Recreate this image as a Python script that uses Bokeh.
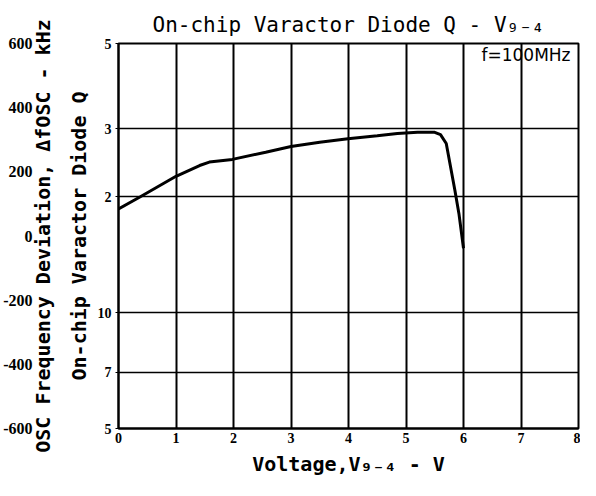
from bokeh.plotting import figure
from bokeh.models import Range1d, LinearAxis, FixedTicker, Label, LinearScale
from bokeh.embed import file_html
from bokeh.resources import INLINE

# ---- data ----
voltage = [0.0, 0.38, 1.0, 1.41, 1.58, 1.98, 2.56, 3.0, 3.5, 3.99, 4.5, 4.85,
           5.2, 5.5, 5.6, 5.7, 5.85, 5.92, 6.0]
diode_q = [18.6, 20.0, 22.6, 24.1, 24.6, 25.0, 26.1, 27.0, 27.7, 28.3, 28.8, 29.2,
           29.4, 29.4, 29.0, 27.5, 20.8, 18.1, 14.7]

x_ticks = [0, 1, 2, 3, 4, 5, 6, 7, 8]
x_grid = [1, 2, 3, 4, 5, 6, 7]
q_ticks = [5, 7, 10, 20, 30, 50]
q_tick_labels = ["5", "7", "10", "2", "3", "5"]
q_grid = [7, 10, 20, 30]
freq_ticks = [-600, -400, -200, 0, 200, 400, 600]
freq_tick_labels = ["-600", "-400", "-200", "0", "200", "400", "600"]

TITLE = "On-chip Varactor Diode Q - V\u2089\u208b\u2084"
XLABEL = "Voltage,V\u2089\u208b\u2084 - V"
QLABEL = "On-chip Varactor Diode Q"
FLABEL = "OSC Frequency Deviation, \u0394fOSC - kHz"
NOTE = "f=100MHz"

MONO = "DejaVu Sans Mono"
NUM = "Liberation Serif"
INK = "black"

p = figure(width=580, height=480, x_range=Range1d(0, 8), y_range=Range1d(5, 50),
           y_axis_type="log", output_backend="svg", toolbar_location=None,
           title=TITLE, min_border_left=118, min_border_right=2,
           min_border_top=43, min_border_bottom=52)
p.extra_y_ranges = {"freq": Range1d(-600, 600)}
p.extra_y_scales = {"freq": LinearScale()}

p.background_fill_color = "white"
p.border_fill_color = "white"
p.outline_line_color = INK
p.outline_line_width = 2
p.outline_line_alpha = 1

p.title.align = "center"
p.title.text_font = MONO
p.title.text_font_size = "21px"
p.title.text_font_style = "normal"
p.title.text_color = INK
p.title.standoff = 13

# x axis
xa = p.xaxis[0]
xa.ticker = FixedTicker(ticks=x_ticks)
xa.axis_label = XLABEL
xa.axis_label_text_font = MONO
xa.axis_label_text_font_size = "20px"
xa.axis_label_text_font_style = "bold"
xa.axis_label_text_color = INK
xa.axis_label_standoff = 6
xa.major_label_text_font = NUM
xa.major_label_text_font_style = "bold"
xa.major_label_text_font_size = "14px"
xa.major_label_text_color = INK
xa.major_label_standoff = 4
xa.major_tick_in = 0
xa.major_tick_out = 0
xa.minor_tick_in = 0
xa.minor_tick_out = 0
xa.axis_line_color = INK
xa.axis_line_width = 2

# primary (Q) axis
ya = p.yaxis[0]
ya.ticker = FixedTicker(ticks=q_ticks)
ya.major_label_overrides = {t: s for t, s in zip(q_ticks, q_tick_labels)}
ya.axis_label = QLABEL
ya.axis_label_text_font = MONO
ya.axis_label_text_font_size = "20px"
ya.axis_label_text_font_style = "bold"
ya.axis_label_text_color = INK
ya.axis_label_standoff = 4
ya.major_label_text_font = NUM
ya.major_label_text_font_style = "bold"
ya.major_label_text_font_size = "14px"
ya.major_label_text_color = INK
ya.major_label_standoff = 4
ya.major_tick_in = 0
ya.major_tick_out = 3
ya.major_tick_line_color = INK
ya.minor_tick_in = 0
ya.minor_tick_out = 0
ya.axis_line_color = INK
ya.axis_line_width = 2

# label-only axis for the frequency deviation title
fl = LinearAxis(y_range_name="freq", ticker=FixedTicker(ticks=[]),
                axis_label=FLABEL)
fl.axis_line_color = None
fl.major_tick_line_color = None
fl.minor_tick_line_color = None
fl.axis_label_text_font = MONO
fl.axis_label_text_font_size = "20px"
fl.axis_label_text_font_style = "bold"
fl.axis_label_text_color = INK
fl.axis_label_standoff = 9
p.add_layout(fl, "left")

# frequency tick labels axis (outermost)
fa = LinearAxis(y_range_name="freq", ticker=FixedTicker(ticks=freq_ticks))
fa.major_label_overrides = {t: s for t, s in zip(freq_ticks, freq_tick_labels)}
fa.axis_line_color = None
fa.major_tick_line_color = None
fa.minor_tick_line_color = None
fa.major_tick_out = 0
fa.major_tick_in = 0
fa.major_label_text_font = NUM
fa.major_label_text_font_style = "bold"
fa.major_label_text_font_size = "16px"
fa.major_label_text_color = INK
fa.major_label_standoff = -5
p.add_layout(fa, "left")

# grids
p.xgrid.ticker = FixedTicker(ticks=x_grid)
p.xgrid.grid_line_color = INK
p.xgrid.grid_line_width = 2
p.xgrid.grid_line_alpha = 1
p.ygrid.ticker = FixedTicker(ticks=q_grid)
p.ygrid.grid_line_color = INK
p.ygrid.grid_line_width = 1.5
p.ygrid.grid_line_alpha = 1

p.line(voltage, diode_q, line_color=INK, line_width=3)

p.add_layout(Label(x=8, y=50, x_offset=-8, y_offset=-1, text=NOTE,
                   text_align="right", text_baseline="top",
                   text_font="DejaVu Sans", text_font_size="17px",
                   text_color=INK))

open("out.html", "w").write(file_html(p, INLINE))
